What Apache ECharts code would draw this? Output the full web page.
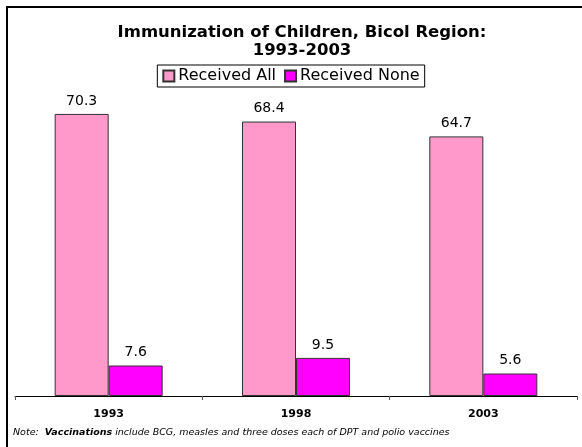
<!DOCTYPE html>
<html>
<head>
<meta charset="utf-8">
<script src="https://cdn.jsdelivr.net/npm/echarts@6/dist/echarts.min.js"></script>
<style>
  html, body { margin: 0; padding: 0; background: #fff; }
  #chart { width: 582px; height: 447px; }
</style>
</head>
<body>
<div id="chart"></div>
<script>
const years = ['1993', '1998', '2003'];
const receivedAll = [70.3, 68.4, 64.7];
const receivedNone = [7.6, 9.5, 5.6];

const chart = echarts.init(document.getElementById('chart'));
const font = 'DejaVu Sans, Verdana, sans-serif';

const option = {
    animation: false,
    textStyle: { fontFamily: font },
    title: {
        text: 'Immunization of Children, Bicol Region:\n1993-2003',
        left: 302,
        textAlign: 'center',
        top: 24,
        padding: 0,
        textStyle: {
            fontSize: 16.5,
            fontWeight: 'bold',
            color: '#000',
            lineHeight: 18,
            fontFamily: font
        }
    },
    legend: {
        data: ['Received All', 'Received None'],
        top: 65,
        left: 'center',
        itemWidth: 11,
        itemHeight: 11,
        itemGap: 8,
        padding: [3, 5, 3, 5],
        borderColor: '#000',
        borderWidth: 1,
        icon: 'rect',
        textStyle: {
            fontSize: 16,
            color: '#000',
            padding: [0, 0, 0, -1],
            fontFamily: font
        }
    },
    grid: {
        left: 15,
        right: 5,
        top: 75,
        bottom: 51
    },
    xAxis: {
        type: 'category',
        data: years,
        axisLine: { lineStyle: { color: '#000', width: 1 } },
        axisTick: { show: true, length: 4, lineStyle: { color: '#555' } },
        axisLabel: {
            fontSize: 11,
            fontWeight: 'bold',
            color: '#000',
            margin: 13,
            fontFamily: font
        }
    },
    yAxis: {
        type: 'value',
        min: 0,
        max: 80,
        show: false,
        splitLine: { show: false }
    },
    series: [
        {
            name: 'Received All',
            type: 'bar',
            data: receivedAll,
            barWidth: 54,
            barGap: '0%',
            itemStyle: { color: '#FF99CC', borderColor: '#333', borderWidth: 1 },
            label: {
                show: true,
                position: 'top',
                distance: 6,
                fontSize: 14,
                color: '#000',
                fontFamily: font
            }
        },
        {
            name: 'Received None',
            type: 'bar',
            data: receivedNone,
            barWidth: 54,
            itemStyle: { color: '#FF00FF', borderColor: '#333', borderWidth: 1 },
            label: {
                show: true,
                position: 'top',
                distance: 6,
                fontSize: 14,
                color: '#000',
                fontFamily: font
            }
        }
    ],
    graphic: [
        {
            type: 'polyline',
            shape: { points: [[7, 447], [7, 7], [582, 7]] },
            style: { stroke: '#000', lineWidth: 2, fill: null }
        },
        {
            type: 'text',
            left: 13,
            top: 428,
            style: {
                rich: {
                    n: { fontSize: 9.5, fontStyle: 'italic', fill: '#000', fontFamily: font },
                    b: { fontSize: 9.5, fontStyle: 'italic', fontWeight: 'bold', fill: '#000', fontFamily: font }
                },
                text: '{n|Note:  }{b|Vaccinations}{n| include BCG, measles and three doses each of DPT and polio vaccines}'
            }
        }
    ]
};

chart.setOption(option);
</script>
</body>
</html>
